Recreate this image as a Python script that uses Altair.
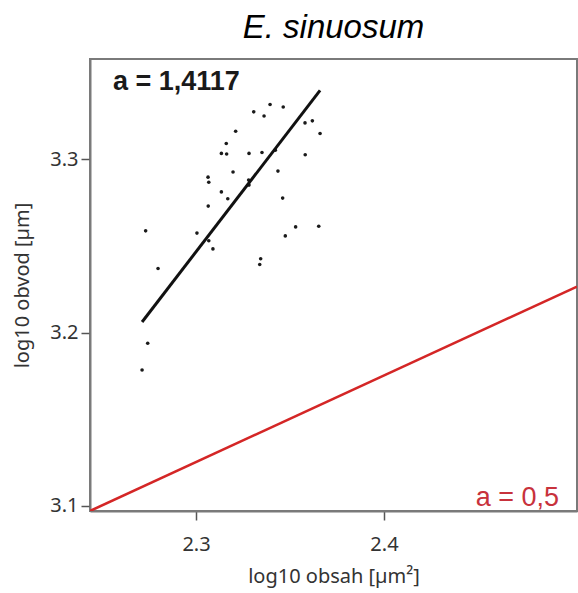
import altair as alt
import pandas as pd

# log10 of cell area [µm²] and perimeter [µm] for each measured cell
log_area = [2.3394, 2.3464, 2.3307, 2.3362, 2.3580, 2.3619, 2.3660, 2.3211,
            2.3161, 2.3135, 2.3163, 2.3282, 2.3351, 2.3422, 2.3581, 2.3197,
            2.3436, 2.3064, 2.3068, 2.3280, 2.3282, 2.3135, 2.3169, 2.3461,
            2.3065, 2.2732, 2.3005, 2.3068, 2.3090, 2.3475, 2.3530, 2.3653,
            2.3344, 2.3339, 2.2798, 2.2743, 2.2713]
log_perimeter = [3.3317, 3.3303, 3.3275, 3.3251, 3.3211, 3.3223, 3.3150, 3.3163,
                 3.3092, 3.3035, 3.3032, 3.3035, 3.3040, 3.3054, 3.3027, 3.2928,
                 3.2933, 3.2898, 3.2869, 3.2881, 3.2852, 3.2813, 3.2773, 3.2777,
                 3.2731, 3.2588, 3.2575, 3.2531, 3.2484, 3.2559, 3.2611, 3.2615,
                 3.2427, 3.2394, 3.2371, 3.1939, 3.1785]

# fitted allometric slope and the isometric reference slope
fit_slope, fit_intercept = 1.4117, -0.0002
ref_slope, ref_intercept = 0.5, 1.9753

x_domain = [2.2436, 2.5027]
y_domain = [3.0971, 3.358]
x_ticks = [2.3, 2.4]
y_ticks = [3.1, 3.2, 3.3]

fit_x = [min(log_area), max(log_area)]
ref_x = x_domain

points = pd.DataFrame({"area": log_area, "perimeter": log_perimeter})
fit = pd.DataFrame({"area": fit_x,
                    "perimeter": [fit_intercept + fit_slope * v for v in fit_x]})
ref = pd.DataFrame({"area": ref_x,
                    "perimeter": [ref_intercept + ref_slope * v for v in ref_x]})

AXIS_GRAY = "#7a7a7a"
LABEL_FONT = "Noto Sans"

x_enc = alt.X(
    "area:Q",
    scale=alt.Scale(domain=x_domain, nice=False, zero=False),
    axis=alt.Axis(values=x_ticks, format=".1f", title="log10 obsah [µm²]",
                  grid=False, tickSize=9, labelPadding=14, titlePadding=12),
)
y_enc = alt.Y(
    "perimeter:Q",
    scale=alt.Scale(domain=y_domain, nice=False, zero=False),
    axis=alt.Axis(values=y_ticks, format=".1f", title="log10 obvod [µm]",
                  grid=False, tickSize=9, labelPadding=3, titlePadding=17),
)

dots = alt.Chart(points).mark_circle(size=13, color="#1a1a1a", opacity=1).encode(
    x=x_enc, y=y_enc)

fit_line = alt.Chart(fit).mark_line(color="#111111", strokeWidth=3).encode(
    x="area:Q", y="perimeter:Q")

ref_line = alt.Chart(ref).mark_line(color="#d42626", strokeWidth=2.5, clip=True).encode(
    x="area:Q", y="perimeter:Q")

fit_label = alt.Chart(pd.DataFrame({"t": [f"a = {fit_slope:.4f}".replace(".", ",")]})).mark_text(
    align="left", baseline="alphabetic", font="Liberation Sans", fontSize=27,
    fontWeight="bold", color="#1a1a1a",
).encode(text="t:N", x=alt.value(23), y=alt.value(31))

ref_label = alt.Chart(pd.DataFrame({"t": [f"a = {ref_slope:.1f}".replace(".", ",")]})).mark_text(
    align="right", baseline="alphabetic", font="Liberation Sans", fontSize=27,
    color="#c8323c",
).encode(text="t:N", x=alt.value(469), y=alt.value(447))

chart = alt.layer(ref_line, dots, fit_line, fit_label, ref_label).properties(
    width=487,
    height=452,
    title=alt.TitleParams("E. sinuosum", font="Liberation Sans", fontSize=33,
                          fontStyle="italic", fontWeight="normal", color="black",
                          anchor="middle", offset=14),
    autosize=alt.AutoSizeParams(type="none"),
    padding={"left": 90, "top": 59, "right": 1, "bottom": 82},
).configure_view(
    stroke=AXIS_GRAY, strokeWidth=2,
).configure_axis(
    domainColor=AXIS_GRAY, domainWidth=2, tickColor="#555555", tickWidth=1.5,
    labelFont=LABEL_FONT, labelFontSize=20, labelColor="#333333",
    titleFont=LABEL_FONT, titleFontSize=20, titleFontWeight="normal",
    titleColor="#333333",
)

chart.save("out.html", embed_options={"renderer": "svg", "actions": False})
